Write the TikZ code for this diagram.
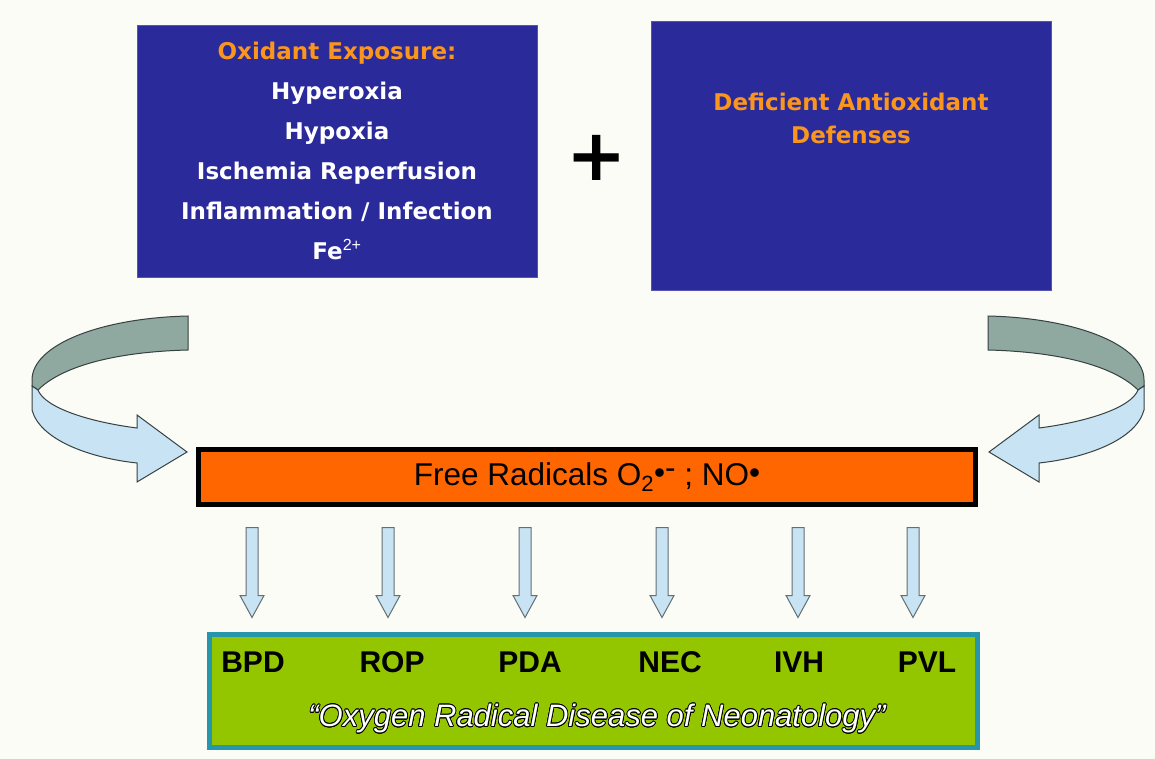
\documentclass[tikz,border=0pt]{standalone}
\usepackage{fontspec}
\setmainfont{Liberation Sans}
\newfontfamily\verdana{DejaVu Sans}
\usepackage{contour}
\contourlength{0.8pt}
\usetikzlibrary{calc}

\definecolor{pagebg}{RGB}{252,252,246}
\definecolor{boxblue}{RGB}{42,42,155}
\definecolor{titleorange}{RGB}{250,150,30}
\definecolor{radorange}{RGB}{255,102,0}
\definecolor{diseasegreen}{RGB}{148,198,0}
\definecolor{tealborder}{RGB}{40,150,170}
\definecolor{arrowfill}{RGB}{200,228,244}
\definecolor{bandback}{RGB}{143,168,160}
\definecolor{arrowline}{RGB}{55,65,65}
\definecolor{shaftline}{RGB}{100,110,115}

\begin{document}
\begin{tikzpicture}[x=1pt,y=-1pt,
  bluebox/.style={rectangle,fill=boxblue,draw=boxblue!80!white,line width=0.6pt,minimum width=400pt},
  boxtext/.style={font=\verdana\bfseries\fontsize{23}{40}\selectfont,text=white,align=center},
  ailment/.style={font=\bfseries\fontsize{30}{32}\selectfont},
  blockarrow/.style={draw=shaftline,fill=arrowfill,line width=1pt,
    to path={let \p1=(\tikztostart), \p2=(\tikztotarget) in
      (\x1-6pt,\y1) -- (\x1+6pt,\y1) -- (\x1+6pt,\y2+22pt) -- (\x1+12pt,\y2+22pt)
      -- (\x1,\y2) -- (\x1-12pt,\y2+22pt) -- (\x1-6pt,\y2+22pt) -- cycle}}]
\useasboundingbox (0,0) rectangle (1155,759);
\fill[pagebg] (0,0) rectangle (1155,759);

\node [bluebox,minimum height=252pt,boxtext] (exposure) at (337,151)
  {{\color{titleorange}Oxidant Exposure:}\\Hyperoxia\\Hypoxia\\Ischemia Reperfusion\\
   Inflammation / Infection\\Fe\textsuperscript{\rmfamily\mdseries 2+}};
\node [bluebox,minimum height=269pt] (defenses) at (851,155.5) {};
\node [boxtext,text=titleorange,font=\verdana\bfseries\fontsize{23}{33}\selectfont] (deftext) at (851,118)
  {Deficient Antioxidant\\Defenses};
\node [font=\verdana\bfseries\fontsize{72}{72}\selectfont,inner sep=0pt] (plus) at (597,158) {+};

\node [draw=black,line width=5pt,fill=radorange,minimum width=777pt,minimum height=55pt,
  inner sep=0pt,font=\fontsize{31.5}{36}\selectfont] (radicals) at (587,477)
  {Free Radicals O\textsubscript{2}\raisebox{.05em}{•}\raisebox{.2em}{-} ; NO\raisebox{.05em}{•}};

\node [draw=tealborder,line width=5pt,fill=diseasegreen,minimum width=768pt,minimum height=113pt] (disease) at (593.5,691) {};
\foreach \lab/\lx in {BPD/253,ROP/392,PDA/530,NEC/670,IVH/799,PVL/927}
  \node [ailment] (\lab) at (\lx,662) {\lab};
\node [text=white,font=\itshape\fontsize{31}{34}\selectfont] (motto) at (597,719)
  {\contour{black}{“Oxygen Radical Disease of Neonatology”}};

\foreach \ax [count=\i] in {252,388,525,662,798,913} {
  \coordinate (from\i) at ([yshift=-20.5pt]radicals.south -| \ax,0);
  \coordinate (to\i) at ([yshift=14.5pt]disease.north -| \ax,0);
  \draw [blockarrow] (from\i) to (to\i);
}

\foreach \flip/\sh in {1/0,-1/1176} {
  \begin{scope}[xshift=\sh pt,xscale=\flip]
    \filldraw [fill=bandback,draw=arrowline,line width=1pt]
      (188,316) .. controls (100,318) and (32,345) .. (32,380) -- (32,386) -- (38,390)
      .. controls (60,368) and (110,352) .. (188,350) -- cycle;
    \filldraw [fill=arrowfill,draw=arrowline,line width=1pt]
      (32,386) -- (32,410) .. controls (40,440) and (90,458) .. (137,463) -- (137,482)
      -- (187,452) -- (137,415) -- (137,428) .. controls (90,422) and (45,408) .. (38,390) -- cycle;
  \end{scope}
}
\end{tikzpicture}
\end{document}
